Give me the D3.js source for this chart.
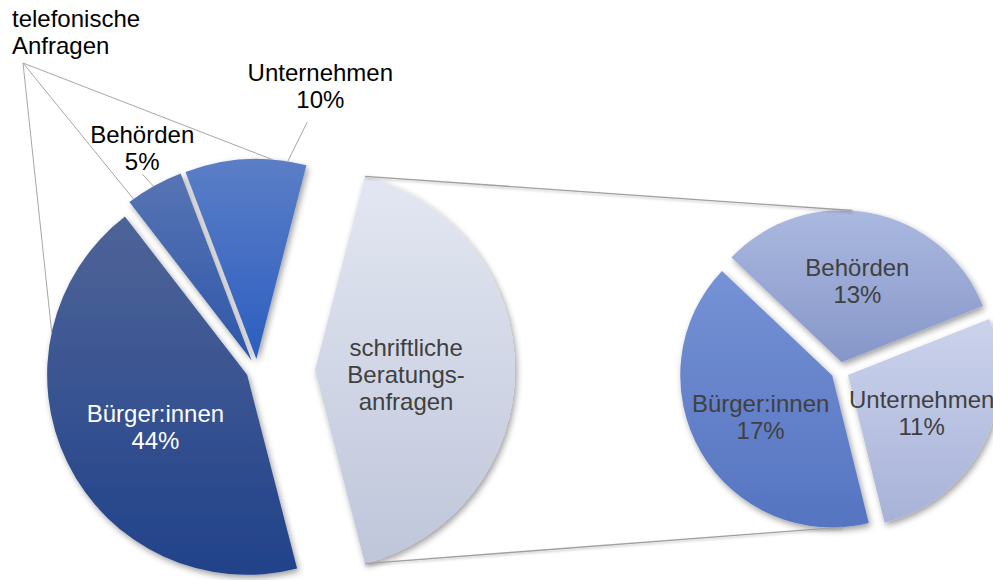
<!DOCTYPE html>
<html>
<head>
<meta charset="utf-8">
<script src="https://cdn.jsdelivr.net/npm/d3@7"></script>
<style>
  html, body { margin: 0; padding: 0; background: #ffffff; }
  svg { display: block; font-family: "Liberation Sans", Arial, sans-serif; }
</style>
</head>
<body>
<svg id="chart" width="993" height="580"></svg>
<script>
// ---------------- DATA ----------------
const groupLabelLines = ["telefonische", "Anfragen"];
const mainCategories = ["Bürger:innen", "Behörden", "Unternehmen"];
const mainValues = [43.6, 4.7, 9.8];
const otherLabelLines = ["schriftliche", "Beratungs-", "anfragen"];
const secondaryCategories = ["Behörden", "Unternehmen", "Bürger:innen"];
const secondaryValues = [13.4, 11.4, 17.2];

// ---------------- COLOURS (top -> bottom gradients) ----------------
const mainColors = [["#4f6498", "#21428a"], ["#5874b3", "#2e57aa"], ["#5b7ec6", "#2c5ec0"]];
const otherColor = ["#e3e7f2", "#bfc6da"];
const secondaryColors = [["#abb9e0", "#8696c8"], ["#cbd3ec", "#a8b2d8"], ["#7692d5", "#5574c1"]];

// ---------------- LAYOUT ----------------
const W = 993, H = 580;
const deg = Math.PI / 180;
const main = { cx: 257, cy: 370, r: 200, explode: 11, otherExplode: 58 };
const sec = { cx: 840, cy: 371, r: 152, explode: 9, start: -46.5 * deg };

const svg = d3.select("#chart");
const defs = svg.append("defs");
const f = defs.append("filter").attr("id", "shadow")
  .attr("x", "-20%").attr("y", "-20%").attr("width", "140%").attr("height", "140%");
f.append("feDropShadow").attr("dx", 2).attr("dy", 3).attr("stdDeviation", 3)
  .attr("flood-color", "#000").attr("flood-opacity", 0.38);
const fl = defs.append("filter").attr("id", "lshadow")
  .attr("x", "-5%").attr("y", "-50%").attr("width", "110%").attr("height", "200%");
fl.append("feDropShadow").attr("dx", 0).attr("dy", 1.5).attr("stdDeviation", 1)
  .attr("flood-color", "#000").attr("flood-opacity", 0.25);

function gradient(id, c) {
  const g = defs.append("linearGradient").attr("id", id)
    .attr("x1", 0).attr("y1", 0).attr("x2", 0).attr("y2", 1);
  g.append("stop").attr("offset", "0%").attr("stop-color", c[0]);
  g.append("stop").attr("offset", "100%").attr("stop-color", c[1]);
  return "url(#" + id + ")";
}

const total = d3.sum(mainValues) + d3.sum(secondaryValues);
const otherValue = d3.sum(secondaryValues);
const pct = v => d3.format(".0%")(v / total);

// point at angle a (d3 convention: 0 = up, clockwise) and radius r from centre c
const pt = (c, a, r) => [c[0] + r * Math.sin(a), c[1] - r * Math.cos(a)];
const mid = d => (d.startAngle + d.endAngle) / 2;

// ---------- main pie ----------
const mainData = [{ name: "other", value: otherValue, other: true }]
  .concat(mainCategories.map((n, i) => ({ name: n, value: mainValues[i], idx: i })));
const otherFrac = otherValue / total;
const mainStart = Math.PI / 2 - otherFrac * Math.PI;
const mainPie = d3.pie().sort(null).value(d => d.value)
  .startAngle(mainStart).endAngle(mainStart + 2 * Math.PI);
const mainArcs = mainPie(mainData);
const arcMain = d3.arc().innerRadius(0).outerRadius(main.r);

mainArcs.forEach(d => {
  const e = d.data.other ? main.otherExplode : main.explode;
  d.c = pt([main.cx, main.cy], mid(d), e);
});

const gMain = svg.append("g");
gMain.selectAll("path").data(mainArcs).join("path")
  .attr("transform", d => `translate(${d.c[0]},${d.c[1]})`)
  .attr("d", arcMain)
  .attr("fill", (d, i) => d.data.other ? gradient("gOther", otherColor) : gradient("gMain" + i, mainColors[d.data.idx]))
  .attr("filter", "url(#shadow)");

// ---------- secondary pie ----------
const secData = secondaryCategories.map((n, i) => ({ name: n, value: secondaryValues[i], idx: i }));
const secPie = d3.pie().sort(null).value(d => d.value)
  .startAngle(sec.start).endAngle(sec.start + 2 * Math.PI);
const secArcs = secPie(secData);
const arcSec = d3.arc().innerRadius(0).outerRadius(sec.r);
secArcs.forEach(d => { d.c = pt([sec.cx, sec.cy], mid(d), sec.explode); });

const gSec = svg.append("g");
gSec.selectAll("path").data(secArcs).join("path")
  .attr("transform", d => `translate(${d.c[0]},${d.c[1]})`)
  .attr("d", arcSec)
  .attr("fill", (d, i) => gradient("gSec" + i, secondaryColors[i]))
  .attr("filter", "url(#shadow)");

// ---------- connector lines ----------
const otherArc = mainArcs[0];
const topStart = pt(otherArc.c, otherArc.startAngle, main.r);
const botStart = pt(otherArc.c, otherArc.endAngle, main.r);
const topEnd = pt(secArcs[0].c, 4 * deg, sec.r);
const botEnd = pt(secArcs[2].c, 176 * deg, sec.r);
const gConn = svg.append("g").attr("stroke", "#a0a0a0").attr("stroke-width", 1.4)
  .attr("fill", "none").attr("filter", "url(#lshadow)");
gConn.append("line").attr("x1", topStart[0]).attr("y1", topStart[1]).attr("x2", topEnd[0]).attr("y2", topEnd[1]);
gConn.append("line").attr("x1", botStart[0]).attr("y1", botStart[1]).attr("x2", botEnd[0]).attr("y2", botEnd[1]);

// ---------- text helper ----------
const FS = 24, LH = 27, CAP = 17;
function block(x, cy, lines, color, anchor) {
  const t = svg.append("text").attr("text-anchor", anchor || "middle")
    .attr("font-size", FS).attr("fill", color);
  const first = cy - (lines.length - 1) * LH / 2 + CAP / 2;
  lines.forEach((l, i) => t.append("tspan").attr("x", x).attr("y", first + i * LH).text(l));
}

// ---------- main pie labels ----------
// Bürger:innen inside
const bArc = mainArcs[1];
const bPos = pt(bArc.c, mid(bArc) - 3.5 * deg, main.r * 0.527);
block(bPos[0], bPos[1], [bArc.data.name, pct(bArc.data.value)], "#ffffff");

// other slice label inside
const oPos = pt(otherArc.c, mid(otherArc) + 3 * deg, main.r * 0.456);
block(oPos[0], oPos[1], otherLabelLines, "#404040");

// outside labels with leader lines
const outside = [
  { arc: mainArcs[2], leadA: -29.4, leadEndA: -30.4, leadEndR: 1.08, labA: -27.25, labR: 1.195 },
  { arc: mainArcs[3], leadA: 9.0, leadEndA: 12.1, leadEndR: 1.21, labA: 13.2, labR: 1.4 }
];
const gLead = svg.append("g").attr("stroke", "#a6a6a6").attr("stroke-width", 1);
outside.forEach(o => {
  const p1 = pt(o.arc.c, o.leadA * deg, main.r);
  const p2 = pt(o.arc.c, o.leadEndA * deg, main.r * o.leadEndR);
  gLead.append("line").attr("x1", p1[0]).attr("y1", p1[1]).attr("x2", p2[0]).attr("y2", p2[1]);
  const lp = pt(o.arc.c, o.labA * deg, main.r * o.labR);
  block(lp[0], lp[1], [o.arc.data.name, pct(o.arc.data.value)], "#000000");
});

// group label "telefonische Anfragen" with lines to each main slice
const anchor = [main.cx - 234, main.cy - 307];
const groupTargets = [
  { arc: mainArcs[1], a: 282.3 },
  { arc: mainArcs[2], a: 323.8 },
  { arc: mainArcs[3], a: 4.7 }
];
groupTargets.forEach(g => {
  const p = pt(g.arc.c, g.a * deg, main.r);
  gLead.append("line").attr("x1", anchor[0]).attr("y1", anchor[1]).attr("x2", p[0]).attr("y2", p[1]);
});
block(anchor[0] - 11, anchor[1] - 31, groupLabelLines, "#000000", "start");

// ---------- secondary pie labels ----------
secArcs.forEach(d => {
  const p = pt(d.c, mid(d), sec.r * 0.545);
  block(p[0], p[1], [d.data.name, pct(d.data.value)], "#404040");
});
</script>
</body>
</html>
